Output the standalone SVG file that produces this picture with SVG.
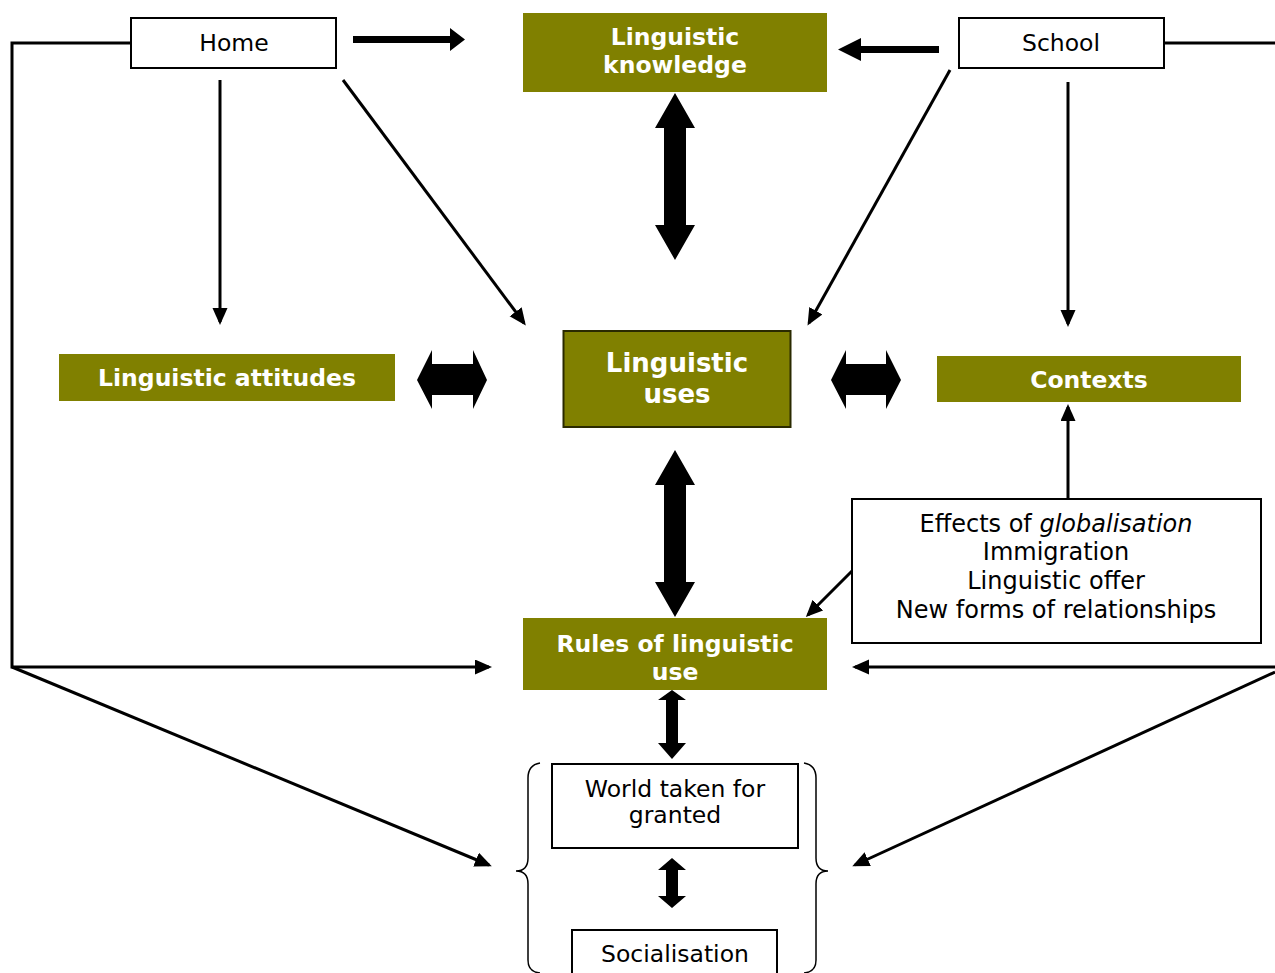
<svg xmlns="http://www.w3.org/2000/svg" width="1275" height="973" viewBox="0 0 1275 973">
<style>
.box{fill:#fff;stroke:#000;stroke-width:2}
.olive{fill:#808000}
.t{font-family:"DejaVu Sans","Verdana",sans-serif;font-size:23.5px;fill:#000;text-anchor:middle}
.tb{font-family:"DejaVu Sans","Verdana",sans-serif;font-weight:bold;font-size:23.5px;fill:#fff;text-anchor:middle}
.ln{fill:none;stroke:#000;stroke-width:3}
.blk{fill:#000}
.brace{fill:none;stroke:#000;stroke-width:1.5}
</style>
<defs>
<marker id="ah" markerUnits="userSpaceOnUse" markerWidth="18" markerHeight="16" refX="14" refY="7.5" orient="auto">
<path d="M0,0 L17,7.5 L0,15 z" fill="#000"/>
</marker>
</defs>
<rect width="1275" height="973" fill="#fff"/>
<g id="connectors">
<polyline class="ln" points="131,43 12,43 12,667 489,667" marker-end="url(#ah)"/>
<line class="ln" x1="12" y1="667" x2="489" y2="865" marker-end="url(#ah)"/>
<line class="ln" x1="1164" y1="43" x2="1275" y2="43"/>
<line class="ln" x1="1275" y1="667" x2="855" y2="667" marker-end="url(#ah)"/>
<line class="ln" x1="1275" y1="672" x2="855" y2="865" marker-end="url(#ah)"/>
<path class="blk" d="M353,36 L450,36 L450,28 L465,39.5 L450,51 L450,43 L353,43 z"/>
<path class="blk" d="M939,46 L861,46 L861,38 L838,49.5 L861,61 L861,53 L939,53 z"/>
<line class="ln" x1="220" y1="80" x2="220" y2="322" marker-end="url(#ah)"/>
<line class="ln" x1="343" y1="80" x2="524" y2="323" marker-end="url(#ah)"/>
<line class="ln" x1="950" y1="70" x2="809" y2="323" marker-end="url(#ah)"/>
<line class="ln" x1="1068" y1="82" x2="1068" y2="324" marker-end="url(#ah)"/>
<line class="ln" x1="1068" y1="499" x2="1068" y2="407" marker-end="url(#ah)"/>
<line class="ln" x1="852" y1="571" x2="808" y2="615" marker-end="url(#ah)"/>
<path class="blk" d="M675,93 L695,128 L686,128 L686,225 L695,225 L675,260 L655,225 L664,225 L664,128 L655,128 z"/>
<path class="blk" d="M675,450 L695,485 L686,485 L686,582 L695,582 L675,617 L655,582 L664,582 L664,485 L655,485 z"/>
<path class="blk" d="M417,380 L432,350 L432,364 L473,364 L473,350 L487,380 L473,409 L473,395 L432,395 L432,409 z"/>
<path class="blk" d="M831,380 L846,350 L846,364 L886,364 L886,350 L901,380 L886,409 L886,395 L846,395 L846,409 z"/>
<path class="blk" d="M672,690 L686,700 L678,700 L678,743 L686,743 L672,759 L658,743 L666,743 L666,700 L658,700 z"/>
<path class="blk" d="M672,858 L686,870 L678,870 L678,896 L686,896 L672,908 L658,896 L666,896 L666,870 L658,870 z"/>
<path class="brace" d="M540,763 Q528,765 528,778 L528,858 Q528,871 516,871 Q528,871 528,884 L528,960 Q528,972 540,973"/>
<path class="brace" d="M804,763 Q816,765 816,778 L816,858 Q816,871 828,871 Q816,871 816,884 L816,960 Q816,972 804,973"/>
</g>
<g id="home"><rect class="box" x="131" y="18" width="205" height="50"/><text class="t" x="234" y="51">Home</text></g>
<g id="school"><rect class="box" x="959" y="18" width="205" height="50"/><text class="t" x="1061" y="51">School</text></g>
<g id="knowledge"><rect class="olive" x="523" y="13" width="304" height="79"/><text class="tb" x="675" y="45">Linguistic</text><text class="tb" x="675" y="73">knowledge</text></g>
<g id="attitudes"><rect class="olive" x="59" y="354" width="336" height="47"/><text class="tb" x="227" y="386">Linguistic attitudes</text></g>
<g id="uses"><rect class="olive" x="563.5" y="331" width="227" height="96" stroke="#2a2a00" stroke-width="2"/><text class="tb" style="font-size:26px" x="677" y="372">Linguistic</text><text class="tb" style="font-size:26px" x="677" y="403">uses</text></g>
<g id="contexts"><rect class="olive" x="937" y="356" width="304" height="46"/><text class="tb" x="1089" y="388">Contexts</text></g>
<g id="effects"><rect class="box" x="852" y="499" width="409" height="144"/>
<text class="t" style="font-size:24px" x="1056" y="532">Effects of <tspan font-style="italic">globalisation</tspan></text>
<text class="t" style="font-size:24px" x="1056" y="560">Immigration</text>
<text class="t" style="font-size:24px" x="1056" y="589">Linguistic offer</text>
<text class="t" style="font-size:24px" x="1056" y="618">New forms of relationships</text></g>
<g id="rules"><rect class="olive" x="523" y="618" width="304" height="72"/><text class="tb" x="675" y="652">Rules of linguistic</text><text class="tb" x="675" y="680">use</text></g>
<g id="world"><rect class="box" x="552" y="764" width="246" height="84"/><text class="t" x="675" y="797">World taken for</text><text class="t" x="675" y="823">granted</text></g>
<g id="socialisation"><rect class="box" x="572" y="930" width="205" height="50"/><text class="t" x="675" y="962">Socialisation</text></g>
</svg>
